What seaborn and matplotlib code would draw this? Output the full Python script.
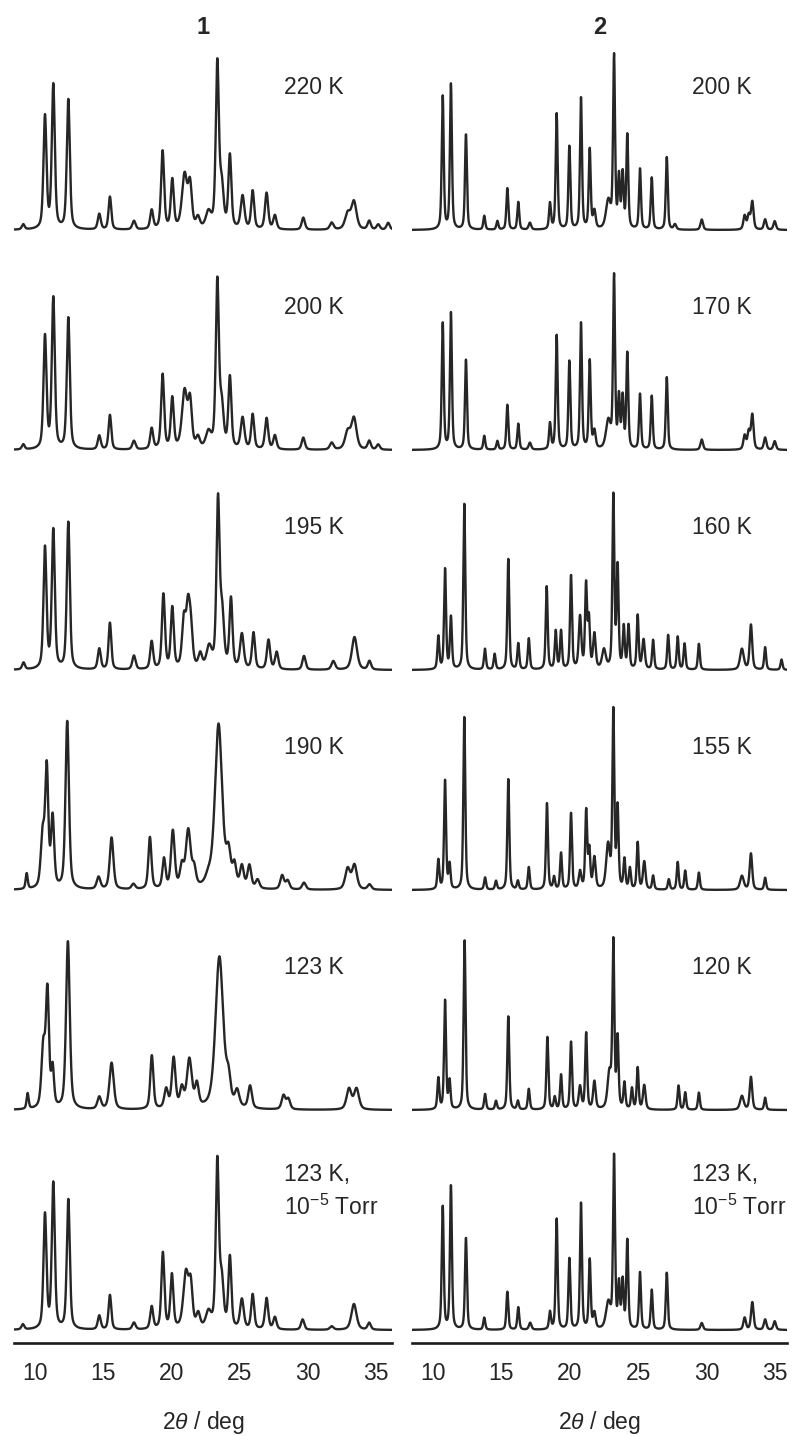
#!/usr/bin/env python3
"""
Variable-temperature powder XRD patterns of 1 and 2 (stacked panels).
"""
import matplotlib
matplotlib.use("Agg")
import matplotlib.pyplot as plt
import numpy as np
import seaborn as sns

# ---------------------------------------------------------------------------
# Peak lists: position (2theta, deg), height (scaled so
# that the strongest peak of a pattern is ~1) and FWHM (deg).
# ---------------------------------------------------------------------------

# --- compound 1 ---
pos_1_220 = [9.13, 10.72, 11.33, 12.43, 14.70, 15.48, 17.24, 18.54, 19.34, 20.05, 20.95,
             21.35, 21.93, 22.70, 23.35, 23.67, 24.27, 25.20, 25.94, 26.96, 27.57, 29.65,
             31.73, 32.90, 33.36, 34.48, 35.14, 35.87]
hgt_1_220 = [0.03, 0.65, 0.83, 0.75, 0.09, 0.19, 0.05, 0.11, 0.45, 0.28, 0.31,
             0.24, 0.06, 0.09, 0.95, 0.23, 0.42, 0.19, 0.22, 0.21, 0.08, 0.07,
             0.04, 0.09, 0.16, 0.05, 0.03, 0.04]
fw_1_220 = [0.24, 0.26, 0.26, 0.26, 0.26, 0.24, 0.28, 0.26, 0.26, 0.26, 0.45,
            0.32, 0.32, 0.45, 0.27, 0.32, 0.26, 0.32, 0.26, 0.28, 0.28, 0.28,
            0.32, 0.45, 0.45, 0.28, 0.28, 0.28]

pos_1_200 = [9.13, 10.72, 11.33, 12.43, 14.70, 15.48, 17.24, 18.54, 19.34, 20.05, 20.95,
             21.35, 21.93, 22.70, 23.35, 23.67, 24.27, 25.20, 25.94, 26.96, 27.57, 29.65,
             31.73, 32.90, 33.36, 34.48, 35.14]
hgt_1_200 = [0.03, 0.65, 0.87, 0.76, 0.08, 0.20, 0.05, 0.12, 0.43, 0.29, 0.33,
             0.26, 0.06, 0.09, 0.96, 0.23, 0.41, 0.18, 0.20, 0.18, 0.08, 0.07,
             0.04, 0.10, 0.18, 0.05, 0.03]
fw_1_200 = [0.24, 0.26, 0.26, 0.26, 0.26, 0.24, 0.28, 0.26, 0.26, 0.26, 0.45,
            0.32, 0.32, 0.45, 0.27, 0.32, 0.26, 0.32, 0.26, 0.28, 0.28, 0.28,
            0.32, 0.45, 0.45, 0.28, 0.28]

pos_1_195 = [9.15, 10.72, 11.33, 12.43, 14.70, 15.48, 17.24, 18.54, 19.40, 20.05, 20.90,
             21.20, 21.40, 22.10, 22.75, 23.40, 23.70, 24.35, 25.15, 26.00, 27.10, 27.70,
             29.70, 31.85, 33.40, 34.50]
hgt_1_195 = [0.04, 0.70, 0.80, 0.85, 0.12, 0.27, 0.08, 0.16, 0.43, 0.35, 0.27,
             0.31, 0.21, 0.08, 0.12, 0.96, 0.30, 0.40, 0.20, 0.21, 0.17, 0.10,
             0.08, 0.05, 0.19, 0.05]
fw_1_195 = [0.24, 0.26, 0.26, 0.26, 0.26, 0.24, 0.28, 0.26, 0.26, 0.26, 0.32,
            0.32, 0.32, 0.32, 0.45, 0.27, 0.32, 0.26, 0.32, 0.26, 0.28, 0.28,
            0.28, 0.32, 0.45, 0.28]

pos_1_190 = [9.38, 10.55, 10.85, 11.28, 12.35, 14.65, 15.60, 17.20, 18.41, 19.44, 20.09,
             20.75, 21.22, 21.65, 22.70, 23.44, 24.17, 24.60, 25.15, 25.70, 26.30, 28.10,
             28.50, 29.70, 32.90, 33.40, 34.50]
hgt_1_190 = [0.09, 0.30, 0.68, 0.40, 0.97, 0.07, 0.30, 0.03, 0.30, 0.17, 0.33,
             0.12, 0.33, 0.10, 0.05, 0.95, 0.18, 0.12, 0.12, 0.13, 0.05, 0.08,
             0.05, 0.04, 0.12, 0.14, 0.03]
fw_1_190 = [0.18, 0.32, 0.27, 0.27, 0.30, 0.32, 0.32, 0.32, 0.27, 0.27, 0.32,
            0.32, 0.42, 0.32, 0.50, 0.62, 0.37, 0.32, 0.32, 0.32, 0.32, 0.32,
            0.32, 0.32, 0.42, 0.42, 0.32]

pos_1_123 = [9.45, 10.60, 10.90, 11.28, 12.40, 14.70, 15.60, 18.55, 19.60, 20.15, 20.75,
             21.30, 21.85, 23.50, 24.17, 24.80, 25.75, 28.20, 28.55, 33.00, 33.55]
hgt_1_123 = [0.09, 0.35, 0.66, 0.22, 0.97, 0.07, 0.27, 0.31, 0.11, 0.29, 0.11,
             0.28, 0.13, 0.88, 0.14, 0.09, 0.13, 0.08, 0.06, 0.12, 0.12]
fw_1_123 = [0.18, 0.32, 0.27, 0.24, 0.32, 0.32, 0.37, 0.27, 0.32, 0.32, 0.32,
            0.42, 0.32, 0.67, 0.37, 0.37, 0.32, 0.32, 0.32, 0.42, 0.42]

pos_1_vac = [9.10, 10.72, 11.33, 12.43, 14.70, 15.48, 17.24, 18.54, 19.36, 20.02, 21.05,
             21.40, 21.95, 22.70, 23.35, 23.67, 24.27, 25.15, 25.94, 26.96, 27.57, 29.60,
             31.73, 33.36, 34.48]
hgt_1_vac = [0.03, 0.66, 0.84, 0.75, 0.08, 0.20, 0.04, 0.13, 0.44, 0.31, 0.32,
             0.23, 0.08, 0.09, 0.96, 0.26, 0.41, 0.17, 0.20, 0.18, 0.07, 0.06,
             0.02, 0.15, 0.04]
fw_1_vac = [0.24, 0.26, 0.26, 0.26, 0.26, 0.24, 0.28, 0.26, 0.26, 0.26, 0.45,
            0.32, 0.32, 0.45, 0.27, 0.32, 0.26, 0.32, 0.26, 0.28, 0.28, 0.28,
            0.32, 0.45, 0.28]

# --- compound 2 ---
pos_2_200 = [10.70, 11.30, 12.40, 13.74, 14.70, 15.43, 16.23, 17.08, 18.55, 19.04, 19.97,
             20.82, 21.46, 21.80, 22.82, 23.24, 23.60, 23.87, 24.21, 25.14, 26.00, 27.10,
             27.70, 29.66, 32.80, 33.10, 33.36, 34.30, 35.00]
hgt_2_200 = [0.77, 0.84, 0.55, 0.08, 0.05, 0.24, 0.16, 0.04, 0.15, 0.67, 0.48,
             0.76, 0.46, 0.10, 0.16, 0.99, 0.29, 0.31, 0.54, 0.35, 0.30, 0.42,
             0.03, 0.06, 0.08, 0.08, 0.16, 0.06, 0.05]
fw_2_200 = [0.17, 0.17, 0.17, 0.17, 0.17, 0.17, 0.17, 0.22, 0.17, 0.17, 0.17,
            0.17, 0.17, 0.22, 0.40, 0.17, 0.17, 0.17, 0.17, 0.17, 0.17, 0.17,
            0.22, 0.22, 0.22, 0.22, 0.22, 0.22, 0.22]

pos_2_170 = [10.70, 11.30, 12.40, 13.74, 14.70, 15.43, 16.23, 17.08, 18.55, 19.04, 19.97,
             20.82, 21.46, 21.80, 22.82, 23.24, 23.60, 23.87, 24.21, 25.14, 26.00, 27.10,
             29.66, 32.80, 33.10, 33.36, 34.30, 35.00]
hgt_2_170 = [0.73, 0.79, 0.52, 0.08, 0.05, 0.26, 0.15, 0.04, 0.15, 0.66, 0.51,
             0.73, 0.51, 0.10, 0.16, 0.99, 0.29, 0.29, 0.55, 0.32, 0.31, 0.42,
             0.06, 0.08, 0.10, 0.20, 0.07, 0.05]
fw_2_170 = [0.17, 0.17, 0.17, 0.17, 0.17, 0.17, 0.17, 0.22, 0.17, 0.17, 0.17,
            0.17, 0.17, 0.22, 0.40, 0.17, 0.17, 0.17, 0.17, 0.17, 0.17, 0.17,
            0.22, 0.22, 0.22, 0.22, 0.22, 0.22]

pos_2_160 = [10.38, 10.87, 11.30, 12.28, 13.79, 14.50, 15.50, 16.23, 17.00, 18.31, 18.97,
             19.36, 20.09, 20.75, 21.19, 21.40, 21.80, 22.50, 23.19, 23.50, 23.95, 24.30,
             24.97, 25.40, 26.10, 27.20, 27.90, 28.40, 29.45, 32.60, 33.26, 34.30, 35.50]
hgt_2_160 = [0.19, 0.58, 0.30, 0.96, 0.12, 0.09, 0.64, 0.15, 0.18, 0.48, 0.22,
             0.22, 0.54, 0.30, 0.48, 0.28, 0.20, 0.11, 1.00, 0.58, 0.24, 0.25,
             0.31, 0.17, 0.17, 0.20, 0.19, 0.15, 0.15, 0.12, 0.26, 0.13, 0.06]
fw_2_160 = [0.17, 0.17, 0.17, 0.17, 0.17, 0.17, 0.17, 0.17, 0.17, 0.17, 0.17,
            0.17, 0.17, 0.22, 0.17, 0.17, 0.22, 0.32, 0.17, 0.17, 0.17, 0.17,
            0.17, 0.22, 0.17, 0.17, 0.17, 0.17, 0.17, 0.32, 0.22, 0.17, 0.17]

pos_2_155 = [10.38, 10.87, 11.20, 12.28, 13.80, 14.60, 15.50, 16.20, 17.00, 18.33, 18.85,
             19.36, 20.09, 20.75, 21.20, 21.43, 21.80, 22.80, 23.19, 23.50, 24.00, 24.40,
             24.97, 25.45, 26.10, 27.25, 27.90, 28.45, 29.45, 32.60, 33.26, 34.30]
hgt_2_155 = [0.17, 0.63, 0.14, 1.00, 0.07, 0.05, 0.64, 0.05, 0.13, 0.50, 0.07,
             0.21, 0.44, 0.10, 0.45, 0.22, 0.18, 0.25, 1.02, 0.46, 0.17, 0.12,
             0.27, 0.16, 0.08, 0.06, 0.16, 0.11, 0.10, 0.08, 0.21, 0.07]
fw_2_155 = [0.17, 0.17, 0.17, 0.17, 0.17, 0.17, 0.17, 0.17, 0.17, 0.17, 0.17,
            0.17, 0.17, 0.22, 0.17, 0.17, 0.22, 0.32, 0.17, 0.17, 0.17, 0.17,
            0.17, 0.22, 0.17, 0.17, 0.17, 0.17, 0.17, 0.32, 0.22, 0.17]

pos_2_120 = [10.38, 10.87, 11.20, 12.30, 13.80, 14.60, 15.50, 16.20, 17.00, 18.36, 18.90,
             19.36, 20.09, 20.75, 21.20, 21.80, 22.90, 23.19, 23.50, 24.00, 24.55, 24.97,
             25.45, 27.96, 28.45, 29.45, 32.60, 33.26, 34.30]
hgt_2_120 = [0.18, 0.63, 0.16, 0.98, 0.09, 0.05, 0.54, 0.05, 0.12, 0.42, 0.07,
             0.20, 0.39, 0.13, 0.44, 0.16, 0.20, 0.95, 0.40, 0.15, 0.12, 0.24,
             0.14, 0.14, 0.10, 0.10, 0.08, 0.19, 0.07]
fw_2_120 = [0.17, 0.17, 0.17, 0.17, 0.17, 0.17, 0.17, 0.17, 0.17, 0.17, 0.17,
            0.17, 0.17, 0.22, 0.17, 0.22, 0.32, 0.17, 0.17, 0.17, 0.17, 0.17,
            0.22, 0.17, 0.17, 0.17, 0.32, 0.22, 0.17]

pos_2_vac = [10.70, 11.30, 12.40, 13.74, 15.43, 16.23, 17.10, 18.55, 19.04, 19.97, 20.82,
             21.46, 21.80, 22.82, 23.24, 23.60, 23.87, 24.21, 25.14, 26.00, 27.10, 29.66,
             32.80, 33.36, 34.30, 35.00]
hgt_2_vac = [0.71, 0.83, 0.53, 0.07, 0.22, 0.13, 0.04, 0.10, 0.64, 0.41, 0.73,
             0.40, 0.09, 0.15, 0.99, 0.25, 0.27, 0.51, 0.33, 0.23, 0.33, 0.04,
             0.07, 0.16, 0.06, 0.05]
fw_2_vac = [0.17, 0.17, 0.17, 0.17, 0.17, 0.17, 0.22, 0.17, 0.17, 0.17, 0.17,
            0.17, 0.22, 0.40, 0.17, 0.17, 0.17, 0.17, 0.17, 0.17, 0.17, 0.22,
            0.22, 0.22, 0.22, 0.22]

labels_1 = ["220 K", "200 K", "195 K", "190 K", "123 K", "123 K,"]
labels_2 = ["200 K", "170 K", "160 K", "155 K", "120 K", "123 K,"]
column_titles = ["1", "2"]
x_ticks = [10, 15, 20, 25, 30, 35]

patterns_1 = [(pos_1_220, hgt_1_220, fw_1_220), (pos_1_200, hgt_1_200, fw_1_200),
              (pos_1_195, hgt_1_195, fw_1_195), (pos_1_190, hgt_1_190, fw_1_190),
              (pos_1_123, hgt_1_123, fw_1_123), (pos_1_vac, hgt_1_vac, fw_1_vac)]
patterns_2 = [(pos_2_200, hgt_2_200, fw_2_200), (pos_2_170, hgt_2_170, fw_2_170),
              (pos_2_160, hgt_2_160, fw_2_160), (pos_2_155, hgt_2_155, fw_2_155),
              (pos_2_120, hgt_2_120, fw_2_120), (pos_2_vac, hgt_2_vac, fw_2_vac)]

LINE = "#262626"
TEXT = "#262626"


def profile(x, pos, hgt, fwhm, eta=0.5):
    """Pseudo-Voigt sum of the listed reflections."""
    y = np.zeros_like(x)
    for c, h, w in zip(pos, hgt, fwhm):
        d = (x - c) / (w / 2.0)
        y += h * (eta / (1.0 + d ** 2) + (1.0 - eta) * np.exp(-np.log(2) * d ** 2))
    return y


sns.set_style("white")
plt.rcParams["font.family"] = ["Liberation Sans", "DejaVu Sans"]
plt.rcParams["mathtext.fontset"] = "custom"
plt.rcParams["mathtext.rm"] = "Liberation Sans"
plt.rcParams["mathtext.it"] = "Liberation Sans:italic"

W, H = 794, 1436
fig = plt.figure(figsize=(W / 100, H / 100), dpi=100)

# column geometry in pixels: left edge, width, x-range
columns = [
    dict(x0=14, w=378, xlim=(8.45, 36.15), label_x=0.714, patterns=patterns_1, labels=labels_1),
    dict(x0=412, w=375, xlim=(8.45, 35.9), label_x=0.746, patterns=patterns_2, labels=labels_2),
]
row_top0, row_step, row_h = 45, 220, 198
label_size = 16.5

for ci, col in enumerate(columns):
    x = np.linspace(col["xlim"][0], col["xlim"][1], 3000)
    for ri, (pos, hgt, fw) in enumerate(col["patterns"]):
        top = row_top0 + ri * row_step
        ax = fig.add_axes([col["x0"] / W, 1 - (top + row_h) / H, col["w"] / W, row_h / H])
        y = profile(x, pos, hgt, fw)
        sns.lineplot(x=x, y=y, ax=ax, color=LINE, linewidth=1.7)
        ax.set_xlim(*col["xlim"])
        ax.set_ylim(-0.075, 1.07)
        ax.set_yticks([])
        ax.set_ylabel("")
        for side in ["left", "right", "top"]:
            ax.spines[side].set_visible(False)
        ax.patch.set_alpha(0)

        if ri < 5:
            ax.spines["bottom"].set_visible(False)
            ax.set_xticks([])
            ax.text(col["label_x"], 1 - 43 / row_h, col["labels"][ri], transform=ax.transAxes,
                    ha="left", va="center", fontsize=label_size, color=TEXT)
        else:
            ax.spines["bottom"].set_linewidth(1.9)
            ax.spines["bottom"].set_color("#1a1a1a")
            ax.set_xticks(x_ticks)
            ax.tick_params(axis="x", direction="out", length=5, width=1.4, pad=8.5,
                           labelsize=16.5, colors="#1a1a1a", labelcolor=TEXT)
            ax.text(col["label_x"], 1 - 29 / row_h, col["labels"][ri], transform=ax.transAxes,
                    ha="left", va="center", fontsize=label_size, color=TEXT)
            ax.text(col["label_x"], 1 - 62 / row_h, r"10$^{-5}$ Torr", transform=ax.transAxes,
                    ha="left", va="center", fontsize=label_size, color=TEXT)
        ax.set_xlabel("")

    xc = (col["x0"] + col["w"] / 2) / W
    fig.text(xc, 1 - 27 / H, column_titles[ci], ha="center", va="center",
             fontsize=17, fontweight="bold", color=TEXT)
    fig.text(xc, 1 - 1423 / H, r"2$\it{\theta}$ / deg", ha="center", va="center",
             fontsize=16.5, color=TEXT)

fig.savefig("out.png", dpi=100, facecolor="white")
plt.close(fig)
